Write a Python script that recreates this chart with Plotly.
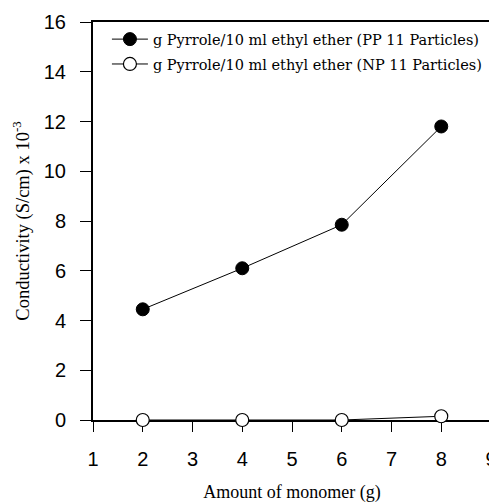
import plotly.graph_objects as go

x_vals = [2, 4, 6, 8]
pp_vals = [4.45, 6.1, 7.85, 11.8]
np_vals = [0.0, 0.0, 0.0, 0.15]
x_ticks = [1, 2, 3, 4, 5, 6, 7, 8, 9]
y_ticks = [0, 2, 4, 6, 8, 10, 12, 14, 16]

serif = "Liberation Serif, Times New Roman, serif"
legend_serif = "DejaVu Serif, serif"
sans = "Liberation Sans, Arial, sans-serif"

fig = go.Figure()
fig.add_trace(go.Scatter(
    x=x_vals, y=pp_vals, mode="lines+markers",
    name="g Pyrrole/10 ml ethyl ether (PP 11 Particles)",
    legendgroup="pp",
    line=dict(color="black", width=1),
    marker=dict(symbol="circle", size=13, color="black", line=dict(color="black", width=1)),
    cliponaxis=False,
))
fig.add_trace(go.Scatter(
    x=x_vals, y=np_vals, mode="lines+markers",
    name="g Pyrrole/10 ml ethyl ether (NP 11 Particles)",
    legendgroup="np",
    line=dict(color="black", width=1),
    marker=dict(symbol="circle", size=13, color="white", line=dict(color="black", width=1.2)),
    cliponaxis=False,
))

# page body has an 8px margin, so the figure is sized/offset to compensate
fig.update_layout(
    width=489, height=495,
    margin=dict(l=85, r=6, t=14, b=83),
    paper_bgcolor="white", plot_bgcolor="white",
    showlegend=True,
    legend=dict(
        x=0.035, y=0.997, xanchor="left", yanchor="top",
        font=dict(family=legend_serif, size=14.5, color="black"),
        bgcolor="rgba(255,255,255,0)", tracegroupgap=3, itemwidth=36,
        traceorder="grouped",
    ),
    xaxis=dict(
        range=[1, 9], tickvals=x_ticks, ticktext=[str(v) for v in x_ticks],
        ticks="outside", ticklen=10, tickcolor="black", tickwidth=1,
        showline=True, linecolor="black", linewidth=2, mirror=True,
        showgrid=False, zeroline=False, automargin=False, layer="below traces",
        tickfont=dict(family=sans, size=20, color="black"),
        ticklabelstandoff=10, ticklabeloverflow="allow",
        title=dict(text="Amount of monomer (g)",
                   font=dict(family=serif, size=18, color="black"),
                   standoff=16),
    ),
    yaxis=dict(
        range=[0, 16], tickvals=y_ticks, ticktext=[str(v) for v in y_ticks],
        ticks="outside", ticklen=11, tickcolor="black", tickwidth=1,
        showline=True, linecolor="black", linewidth=2, mirror=True,
        showgrid=False, zeroline=False, automargin=False, layer="below traces",
        tickfont=dict(family=sans, size=20, color="black"),
        ticklabelstandoff=10,
        title=dict(text="Conductivity (S/cm) x 10<sup>-3</sup>",
                   font=dict(family=serif, size=18.5, color="black"),
                   standoff=9),
    ),
)

fig.write_html("out.html")
